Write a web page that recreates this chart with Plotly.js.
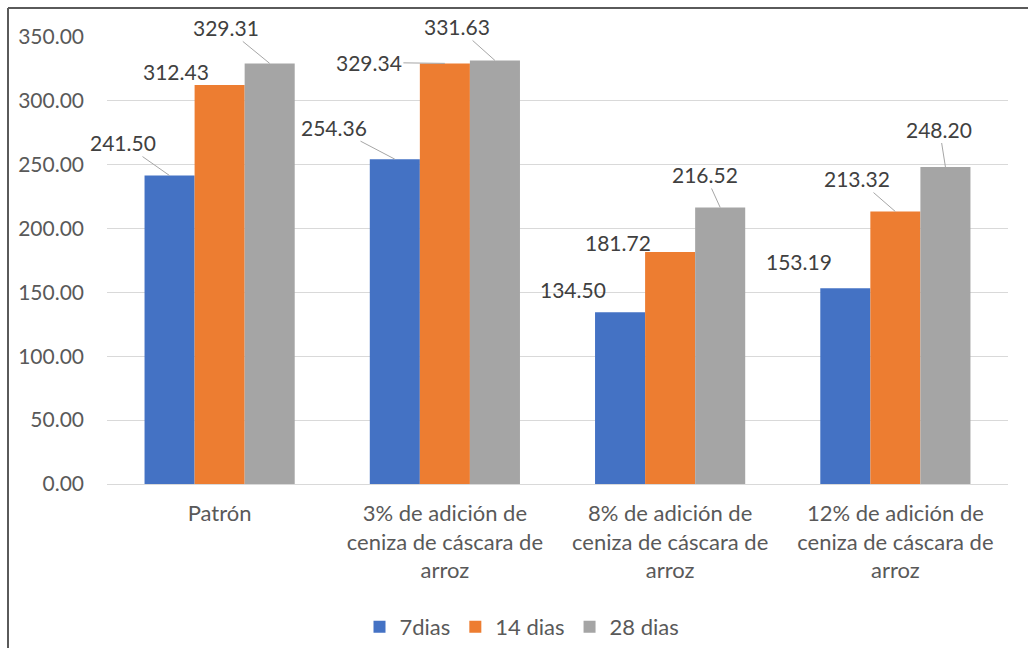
<!DOCTYPE html>
<html>
<head>
<meta charset="utf-8">
<script src="https://cdn.plot.ly/plotly-3.0.1.min.js"></script>
<style>
  html, body { margin: 0; padding: 0; background: #fff; }
  #chart { width: 1028px; height: 648px; }
</style>
</head>
<body>
<div id="chart"></div>
<script>
// Resistencia por edad de curado para cada mezcla
const categories = [
  'Patrón',
  '3% de adición de<br>ceniza de cáscara de<br>arroz',
  '8% de adición de<br>ceniza de cáscara de<br>arroz',
  '12% de adición de<br>ceniza de cáscara de<br>arroz'
];
const seriesNames = ['7dias', '14 dias', '28 dias'];
const dias7  = [241.50, 254.36, 134.50, 153.19];
const dias14 = [312.43, 329.34, 181.72, 213.32];
const dias28 = [329.31, 331.63, 216.52, 248.20];
const yTicks = [0, 50, 100, 150, 200, 250, 300, 350];

const seriesValues = [dias7, dias14, dias28];
const colors = ['#4472C4', '#ED7D31', '#A5A5A5'];

// Placement of each data label relative to the top of its bar, in pixels:
// [dx, dy, draw leader line]
const labelPlacement = [
  [[-47, -33, true], [-61, -32, true], [-47, -23, false], [-46, -27, false]],
  [[-44, -13, false], [-76, -1, true], [-52, -9, false], [-38, -33, true]],
  [[-44, -36, true], [-38, -34, true], [-15, -33, true], [-6, -38, true]]
];

const FONT = 'Lato, "Open Sans", sans-serif';
const BAR_PX = 50.06; // width of one bar in the group

const traces = seriesValues.map((vals, i) => ({
  type: 'bar',
  name: seriesNames[i],
  x: categories,
  y: vals,
  marker: { color: colors[i], line: { width: 0 } },
  hoverinfo: 'skip'
}));

const annotations = [];
seriesValues.forEach((vals, i) => {
  vals.forEach((v, j) => {
    const [dx, dy, leader] = labelPlacement[i][j];
    const shift = (i - 1) * BAR_PX;
    const base = {
      x: categories[j], y: v, xref: 'x', yref: 'y',
      text: v.toFixed(2),
      font: { family: FONT, size: 21, color: '#404040' }
    };
    if (leader) {
      annotations.push(Object.assign(base, {
        showarrow: true, arrowhead: 0, arrowwidth: 1, arrowcolor: '#A6A6A6',
        ax: dx, ay: dy, xshift: shift, standoff: 0, startstandoff: 0
      }));
    } else {
      annotations.push(Object.assign(base, {
        showarrow: false, xshift: shift + dx, yshift: -dy
      }));
    }
  });
});

// chart frame (top and left edges)
const L = 107, R = 20, T = 37, B = 164, W = 1028, H = 648;
const pw = W - L - R, ph = H - T - B;
const px2x = p => (p - L) / pw;
const py2y = p => (H - B - p) / ph;
const shapes = [
  { type: 'line', xref: 'paper', yref: 'paper', x0: px2x(8), x1: px2x(1040),
    y0: py2y(8), y1: py2y(8), line: { color: '#5A5A5A', width: 2 } },
  { type: 'line', xref: 'paper', yref: 'paper', x0: px2x(8), x1: px2x(8),
    y0: py2y(8), y1: py2y(660), line: { color: '#5A5A5A', width: 2 } }
];

const layout = {
  width: W, height: H,
  margin: { l: L, r: R, t: T, b: B, autoexpand: false },
  paper_bgcolor: '#ffffff', plot_bgcolor: '#ffffff',
  barmode: 'group', bargap: 1 / 3, bargroupgap: 0,
  showlegend: true,
  legend: {
    orientation: 'h', x: px2x(522), xanchor: 'center', y: py2y(627), yanchor: 'middle',
    font: { family: FONT, size: 22, color: '#595959' }, traceorder: 'normal',
    itemwidth: 30
  },
  xaxis: {
    type: 'category', range: [-0.5, categories.length - 0.5], autorange: false,
    showgrid: false, showline: false, ticks: '',
    automargin: false,
    tickfont: { family: FONT, size: 22, color: '#595959' },
    ticklabelstandoff: 14, fixedrange: true
  },
  yaxis: {
    range: [0, 350], autorange: false, tickvals: yTicks,
    ticktext: yTicks.map(v => v.toFixed(2)),
    automargin: false,
    showgrid: true, gridcolor: '#D9D9D9', gridwidth: 1,
    zeroline: true, zerolinecolor: '#D9D9D9', zerolinewidth: 1,
    showline: false, ticks: '',
    tickfont: { family: FONT, size: 21, color: '#595959' },
    ticklabelstandoff: 22, fixedrange: true
  },
  annotations: annotations,
  shapes: shapes
};

Plotly.newPlot('chart', traces, layout, { displayModeBar: false, staticPlot: true });
</script>
</body>
</html>
